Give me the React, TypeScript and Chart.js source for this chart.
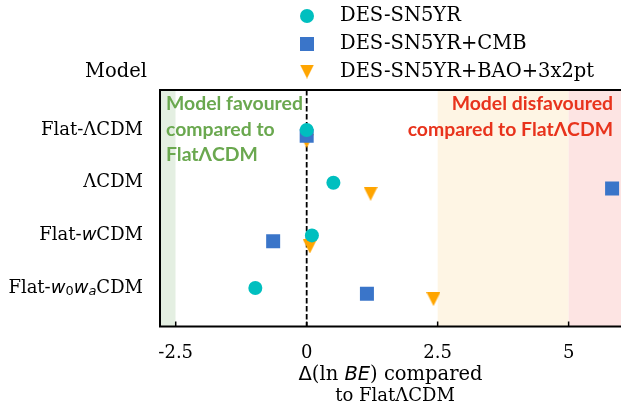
import React, { useEffect, useRef } from "react";
import { Chart, registerables } from "chart.js";
Chart.register(...registerables);

// ---- data ----
const models = ["Flat-ΛCDM", "ΛCDM", "Flat-wCDM", "Flat-w0waCDM"];
const seriesNames = ["DES-SN5YR", "DES-SN5YR+CMB", "DES-SN5YR+BAO+3x2pt"];
const snValues = [0, 0.51, 0.1, -0.98];
const cmbValues = [0, 5.83, -0.64, 1.15];
const baoValues = [0, 1.22, 0.06, 2.42];
const seriesOffsets = [0, 0.11, 0.21];
const xTickValues = [-2.5, 0, 2.5, 5];
const bandEdges = [-2.8, -2.5, 2.5, 5, 6.0];
const xTitleLines = ["Δ(ln BE) compared", "to FlatΛCDM"];
const favouredText = ["Model favoured", "compared to", "FlatΛCDM"];
const disfavouredText = ["Model disfavoured", "compared to FlatΛCDM"];
const legendHeader = "Model";

// ---- styles ----
const COLORS = ["#00bfbf", "#3a75c9", "#ffa500"];
const SERIF = "'DejaVu Serif'";
const SANS = "'DejaVu Sans'";
const FS = 18;
const LFS = 19.5;

type Seg = { t: string; f: string; dy?: number };

function labelSegs(label: string): Seg[] {
  const serif = `${FS}px ${SERIF}`;
  const it = `italic ${FS}px ${SANS}`;
  const sub = `${Math.round(FS * 0.7)}px ${SANS}`;
  const subIt = `italic ${Math.round(FS * 0.7)}px ${SANS}`;
  if (label === "Flat-wCDM") return [{ t: "Flat-", f: serif }, { t: "w", f: it }, { t: "CDM", f: serif }];
  if (label === "Flat-w0waCDM")
    return [
      { t: "Flat-", f: serif },
      { t: "w", f: it },
      { t: "0", f: sub, dy: 4 },
      { t: "w", f: it },
      { t: "a", f: subIt, dy: 4 },
      { t: "CDM", f: serif },
    ];
  return [{ t: label, f: serif }];
}

function titleSegs(line: string): Seg[] {
  if (line.startsWith("Δ")) {
    const serif = `${LFS}px ${SERIF}`;
    const i = line.indexOf("BE");
    return [
      { t: "Δ", f: `${LFS}px ${SANS}` },
      { t: line.slice(1, i), f: serif },
      { t: "BE", f: `italic ${LFS}px ${SANS}` },
      { t: line.slice(i + 2), f: serif },
    ];
  }
  return [{ t: line, f: `${FS}px ${SERIF}` }];
}

function drawSegs(ctx: CanvasRenderingContext2D, segs: Seg[], x: number, y: number, align: "left" | "right" | "center") {
  ctx.textAlign = "left";
  ctx.textBaseline = "middle";
  let total = 0;
  for (const s of segs) {
    ctx.font = s.f;
    total += ctx.measureText(s.t).width;
  }
  let cx = align === "left" ? x : align === "right" ? x - total : x - total / 2;
  for (const s of segs) {
    ctx.font = s.f;
    ctx.fillText(s.t, cx, y + (s.dy || 0));
    cx += ctx.measureText(s.t).width;
  }
}

function makeTriangle(color: string, size: number) {
  const c = document.createElement("canvas");
  c.width = size;
  c.height = size;
  const g = c.getContext("2d")!;
  g.fillStyle = color;
  g.beginPath();
  g.moveTo(0, 0);
  g.lineTo(size, 0);
  g.lineTo(size / 2, size);
  g.closePath();
  g.fill();
  return c;
}

export default function App() {
  const ref = useRef<HTMLCanvasElement>(null);
  useEffect(() => {
    const canvas = ref.current!;
    const tri = makeTriangle(COLORS[2], 14);
    const allValues = [snValues, cmbValues, baoValues];
    const styles: any[] = ["circle", "rect", tri];
    const radii = [7, 9.9, 7];

    const datasets = allValues.map((vals, si) => ({
      label: seriesNames[si],
      data: vals.map((v, i) => ({ x: v, y: i + seriesOffsets[si] })),
      pointStyle: styles[si],
      pointRadius: radii[si],
      pointHoverRadius: radii[si],
      backgroundColor: COLORS[si],
      borderColor: COLORS[si],
      borderWidth: 0,
    }));

    const bandColors = ["#e4efe2", "#ffffff", "#fef5e4", "#fde4e3"];

    const plugin = {
      id: "decor",
      beforeDatasetsDraw(chart: any) {
        const { ctx, chartArea: a, scales } = chart;
        const xs = scales.x;
        ctx.save();
        for (let i = 0; i < bandEdges.length - 1; i++) {
          const x0 = xs.getPixelForValue(bandEdges[i]);
          const x1 = xs.getPixelForValue(bandEdges[i + 1]);
          ctx.fillStyle = bandColors[i];
          ctx.fillRect(x0, a.top, x1 - x0, a.bottom - a.top);
        }
        const x0 = xs.getPixelForValue(0);
        ctx.strokeStyle = "#000";
        ctx.lineWidth = 1.8;
        ctx.setLineDash([5.5, 2.5]);
        ctx.beginPath();
        ctx.moveTo(x0, a.top);
        ctx.lineTo(x0, a.bottom);
        ctx.stroke();
        ctx.restore();
      },
      afterDraw(chart: any) {
        const { ctx, chartArea: a, scales } = chart;
        const xs = scales.x;
        const ys = scales.y;
        ctx.save();
        ctx.font = `bold 19.4px Lato`;
        ctx.fillStyle = "#6aa84f";
        ctx.textAlign = "left";
        ctx.textBaseline = "middle";
        favouredText.forEach((t, i) => ctx.fillText(t, a.left + 6, a.top + 14 + i * 25.5));
        ctx.fillStyle = "#e8331c";
        ctx.textAlign = "right";
        disfavouredText.forEach((t, i) => ctx.fillText(t, a.right - 8, a.top + 14 + i * 25.5));

        ctx.strokeStyle = "#000";
        ctx.lineWidth = 2;
        ctx.beginPath();
        ctx.moveTo(a.right + 2, a.top);
        ctx.lineTo(a.left, a.top);
        ctx.lineTo(a.left, a.bottom);
        ctx.lineTo(a.right + 2, a.bottom);
        ctx.stroke();
        ctx.lineWidth = 1.5;
        xTickValues.forEach((v) => {
          const px = xs.getPixelForValue(v);
          ctx.beginPath();
          ctx.moveTo(px, a.bottom);
          ctx.lineTo(px, a.bottom - 5);
          ctx.stroke();
        });

        ctx.fillStyle = "#000";
        models.forEach((m, i) => {
          drawSegs(ctx, labelSegs(m), a.left - 17, ys.getPixelForValue(i), "right");
        });

        const cx = (a.left + a.right) / 2;
        xTitleLines.forEach((l, i) => drawSegs(ctx, titleSegs(l), cx + i * 4.5, 375 + i * 21, "center"));

        const rowY = [16, 44, 71.5];
        const mx = 307;
        seriesNames.forEach((n, i) => {
          const y = rowY[i];
          ctx.fillStyle = COLORS[i];
          if (i === 0) {
            ctx.beginPath();
            ctx.arc(mx, y, 7, 0, Math.PI * 2);
            ctx.fill();
          } else if (i === 1) {
            ctx.fillRect(mx - 7, y - 7, 14, 14);
          } else {
            ctx.drawImage(tri, mx - 7, y - 7);
          }
          ctx.fillStyle = "#000";
          drawSegs(ctx, [{ t: n, f: `${LFS}px ${SERIF}` }], 340, y, "left");
        });
        drawSegs(ctx, [{ t: legendHeader, f: `${LFS}px ${SERIF}` }], 147, rowY[2], "right");
        ctx.restore();
      },
    };

    const chart = new Chart(canvas, {
      type: "scatter",
      data: { datasets },
      options: {
        animation: false,
        responsive: false,
        events: [],
        layout: { autoPadding: false, padding: { top: 90, left: 0, right: 0, bottom: 0 } },
        plugins: { legend: { display: false }, tooltip: { enabled: false } },
        scales: {
          x: {
            type: "linear",
            min: bandEdges[0],
            max: bandEdges[bandEdges.length - 1],
            afterFit: (s: any) => {
              s.height = 80.5;
              s.paddingLeft = 0;
              s.paddingRight = 0;
            },
            afterBuildTicks: (s: any) => {
              s.ticks = xTickValues.map((v) => ({ value: v }));
            },
            ticks: {
              includeBounds: false,
              font: { family: "DejaVu Serif", size: FS },
              color: "#000",
              padding: 16,
              callback: (v: any) => String(v),
            },
            grid: { display: false, drawTicks: false },
            border: { display: false },
          },
          y: {
            type: "linear",
            reverse: true,
            min: -0.76,
            max: 3.73,
            afterFit: (s: any) => {
              s.width = 160;
              s.paddingTop = 0;
              s.paddingBottom = 0;
            },
            ticks: { display: false },
            grid: { display: false, drawTicks: false },
            border: { display: false },
          },
        },
      },
      plugins: [plugin],
    });
    return () => chart.destroy();
  }, []);

  return (
    <div style={{ position: "absolute", left: 0, top: 0, width: 621, height: 407, overflow: "hidden", background: "#fff" }}>
      <canvas ref={ref} width={621} height={407} style={{ width: 621, height: 407, display: "block" }} />
    </div>
  );
}
